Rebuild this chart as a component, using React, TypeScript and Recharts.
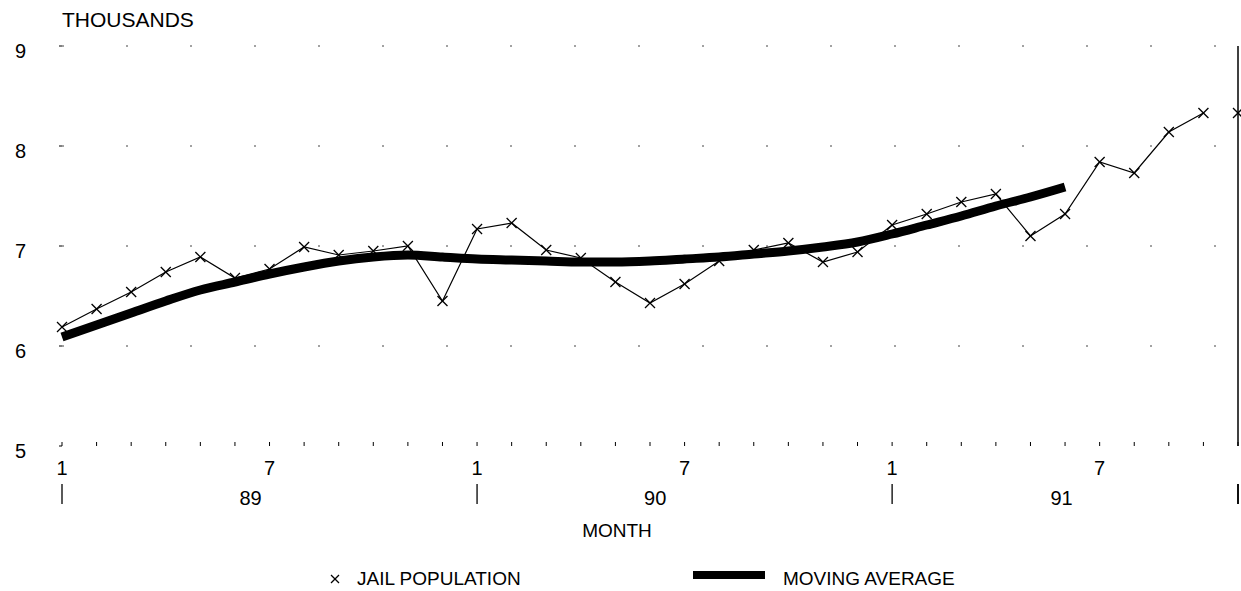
import React from "react";
import { LineChart, Line, XAxis, YAxis, CartesianGrid, ReferenceLine, Legend } from "recharts";

// months Jan 1989 .. Nov 1991
const monthNumbers = [
  1, 2, 3, 4, 5, 6, 7, 8, 9, 10, 11, 12,
  1, 2, 3, 4, 5, 6, 7, 8, 9, 10, 11, 12,
  1, 2, 3, 4, 5, 6, 7, 8, 9, 10, 11,
];
const years = ["89", "90", "91"];

// thousands
const jailPopulation = [
  6.19, 6.37, 6.54, 6.74, 6.89, 6.68, 6.77, 6.99, 6.91, 6.95, 7.0, 6.45,
  7.17, 7.23, 6.96, 6.88, 6.64, 6.43, 6.62, 6.85, 6.96, 7.03, 6.84, 6.94,
  7.21, 7.32, 7.44, 7.52, 7.1, 7.32, 7.84, 7.73, 8.14, 8.33, 8.33,
];
const movingAverage = [
  6.09, 6.21, 6.33, 6.45, 6.56, 6.64, 6.72, 6.79, 6.85, 6.89, 6.91, 6.89,
  6.87, 6.86, 6.85, 6.84, 6.84, 6.85, 6.87, 6.89, 6.92, 6.95, 6.99, 7.04,
  7.12, 7.21, 7.3, 7.4, 7.49, 7.59,
];
const yTicks = [5, 6, 7, 8, 9];

// the last month is plotted on its own, not joined to the line
const LAST = monthNumbers.length - 1;
const yearLabelAt = [5.45, 17.15, 28.9];

const data = monthNumbers.map((m, i) => ({
  idx: i,
  month: m,
  jail: i < LAST ? jailPopulation[i] : null,
  jailEnd: i === LAST ? jailPopulation[i] : null,
  avg: i < movingAverage.length ? movingAverage[i] : null,
}));

const FONT = "'Liberation Sans', Arial, Helvetica, sans-serif";

function XMark(props: any) {
  const { cx, cy } = props;
  if (cx == null || cy == null) return <g />;
  const s = 5;
  return (
    <g stroke="#000" strokeWidth={1.3}>
      <line x1={cx - s} y1={cy - s} x2={cx + s} y2={cy + s} />
      <line x1={cx - s} y1={cy + s} x2={cx + s} y2={cy - s} />
    </g>
  );
}

function MonthTick(props: any) {
  const { x, y, payload } = props;
  const m = monthNumbers[payload.value];
  return (
    <g>
      <line x1={x} y1={y - 4} x2={x} y2={y} stroke="#000" strokeWidth={1} />
      {(m === 1 || m === 7) && (
        <text x={x} y={y + 29} textAnchor="middle" fontSize={20} fontFamily={FONT} fill="#000">
          {m}
        </text>
      )}
      {m === 1 && <line x1={x} y1={y + 38} x2={x} y2={y + 58} stroke="#000" strokeWidth={1.3} />}
    </g>
  );
}

function YearTick(props: any) {
  const { x, y, index } = props;
  return (
    <text x={x} y={y + 19} textAnchor="middle" fontSize={20} fontFamily={FONT} fill="#000">
      {years[index]}
    </text>
  );
}

// axis title plus the closing year bar at the right end
function YearAxisLabel(props: any) {
  const { x, y, width, height } = props.viewBox;
  const right = x + width;
  return (
    <g>
      <path d={`M${right},${y - 2}L${right},${y + 18}`} stroke="#000" strokeWidth={1.5} fill="none" />
      <text x={x + width / 2 - 33} y={y + height - 5} textAnchor="middle" fontSize={19} fontFamily={FONT} fill="#000">
        MONTH
      </text>
    </g>
  );
}

function YTick(props: any) {
  const { x, y, payload } = props;
  return (
    <g>
      <line x1={x - 3} y1={y} x2={x} y2={y} stroke="#000" strokeWidth={1} />
      <text x={x - 47} y={y + 12} fontSize={20} fontFamily={FONT} fill="#000">
        {payload.value}
      </text>
      {payload.value === 9 && (
        <text x={x} y={y - 19} fontSize={21} fontFamily={FONT} fill="#000">
          THOUSANDS
        </text>
      )}
    </g>
  );
}

function LegendBox() {
  const txt: React.CSSProperties = {
    position: "absolute",
    top: 27,
    fontSize: 19,
    lineHeight: "20px",
    fontFamily: FONT,
    color: "#000",
    whiteSpace: "nowrap",
  };
  return (
    <div style={{ position: "relative", width: 1230, height: 49 }}>
      <svg style={{ position: "absolute", left: 322, top: 32 }} width={10} height={10}>
        <line x1={1} y1={1} x2={9} y2={9} stroke="#000" strokeWidth={1.2} />
        <line x1={1} y1={9} x2={9} y2={1} stroke="#000" strokeWidth={1.2} />
      </svg>
      <span style={{ ...txt, left: 349 }}>JAIL POPULATION</span>
      <div style={{ position: "absolute", left: 685, top: 29, width: 72, height: 8, background: "#000" }} />
      <span style={{ ...txt, left: 775 }}>MOVING AVERAGE</span>
    </div>
  );
}

export default function App() {
  return (
    <div style={{ position: "absolute", left: 8, top: 8, fontFamily: FONT }}>
      <LineChart width={1233} height={583} data={data} margin={{ top: 38, right: 3, left: 0, bottom: 0 }}>
        <CartesianGrid
          vertical={false}
          horizontalValues={[6, 7, 8, 9]}
          stroke="#444"
          strokeWidth={1}
          strokeDasharray="2 62"
        />
        <XAxis
          dataKey="idx"
          type="number"
          domain={[0, LAST]}
          ticks={monthNumbers.map((_, i) => i)}
          interval={0}
          axisLine={false}
          tickLine={false}
          tickSize={0}
          tickMargin={0}
          height={40}
          tick={<MonthTick />}
        />
        <XAxis
          xAxisId="year"
          dataKey="idx"
          type="number"
          domain={[0, LAST]}
          ticks={yearLabelAt}
          interval={0}
          axisLine={false}
          tickLine={false}
          tickSize={0}
          tickMargin={0}
          height={56}
          tick={<YearTick />}
          label={<YearAxisLabel />}
        />
        <YAxis
          type="number"
          domain={[5, 9]}
          ticks={yTicks}
          interval={0}
          width={54}
          axisLine={false}
          tickLine={false}
          tickSize={0}
          tickMargin={0}
          tick={<YTick />}
        />
        <ReferenceLine x={LAST} stroke="#000" strokeWidth={1.5} />
        <ReferenceLine
          segment={[{ x: LAST, y: 4.62 }, { x: LAST, y: 4.42 }]}
          ifOverflow="visible"
          stroke="#000"
          strokeWidth={1.5}
        />
        <Legend verticalAlign="bottom" content={<LegendBox />} />
        <Line
          dataKey="avg"
          name="MOVING AVERAGE"
          type="monotone"
          stroke="#000"
          strokeWidth={9}
          dot={false}
          activeDot={false}
          isAnimationActive={false}
        />
        <Line
          dataKey="jail"
          name="JAIL POPULATION"
          type="linear"
          stroke="#000"
          strokeWidth={1.2}
          dot={<XMark />}
          activeDot={false}
          isAnimationActive={false}
        />
        <Line
          dataKey="jailEnd"
          name="JAIL POPULATION END"
          type="linear"
          stroke="none"
          dot={<XMark />}
          activeDot={false}
          isAnimationActive={false}
          legendType="none"
        />
      </LineChart>
    </div>
  );
}
